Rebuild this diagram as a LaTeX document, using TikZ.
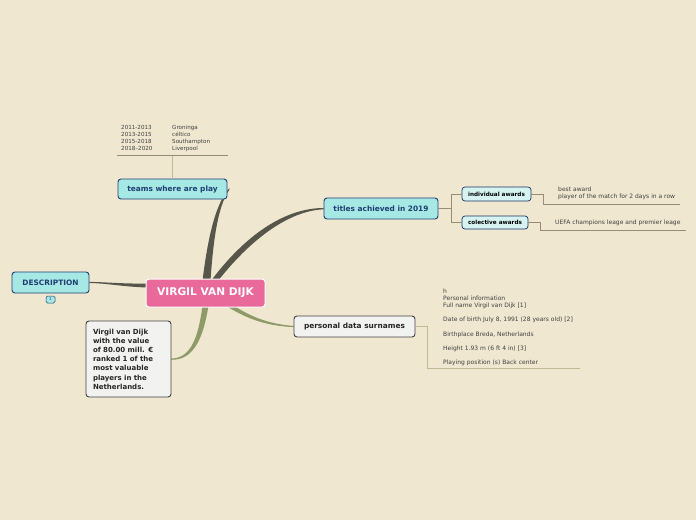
\documentclass[tikz,border=0pt]{standalone}
\usepackage{fontspec}
\setmainfont{DejaVu Sans}
\usetikzlibrary{calc}

\definecolor{paper}{HTML}{EFE7D0}
\definecolor{rosa}{HTML}{E8699A}
\definecolor{cyanfill}{HTML}{A6E8E4}
\definecolor{cyanpale}{HTML}{D6F3F2}
\definecolor{navy}{HTML}{1F3F73}
\definecolor{greyfill}{HTML}{F2F2F0}
\definecolor{darkbranch}{HTML}{57564A}
\definecolor{olive}{HTML}{8E9B68}
\definecolor{tanline}{HTML}{C2B892}
\definecolor{greyline}{HTML}{948E78}

\pgfdeclarelayer{paperlayer}
\pgfdeclarelayer{branchlayer}
\pgfsetlayers{paperlayer,branchlayer,main}

\tikzset{
  topic/.style={rounded corners=3pt, line width=0.9pt, inner sep=0pt,
    font=\fontsize{7.4}{9}\selectfont\bfseries},
  maintopic/.style={topic, draw=navy, fill=cyanfill, text=navy},
  subtopic/.style={topic, draw=navy!80!black, fill=cyanpale, text=black,
    font=\fontsize{5.7}{7}\selectfont\bfseries, line width=0.7pt},
  greytopic/.style={topic, draw=black!75, fill=greyfill, text=black!85},
  detail/.style={anchor=north west, inner sep=0pt, align=left, text=black!75,
    font=\fontsize{6}{7}\selectfont},
}

\begin{document}
\begin{tikzpicture}[x=1pt,y=-1pt]
  \begin{pgfonlayer}{paperlayer}
    \fill[paper] (0,0) rectangle (696,520);
  \end{pgfonlayer}
  \useasboundingbox (0,0) rectangle (696,520);

  % central topic
  \node[topic, draw=white, fill=rosa, text=white, line width=1pt,
    minimum width=119pt, minimum height=28pt,
    font=\fontsize{10.6}{12}\selectfont\bfseries] (vvd) at (205.5,293) {VIRGIL VAN DIJK};

  % main topics
  \node[maintopic, minimum width=109pt, minimum height=20pt] (teams) at (172.5,189) {teams where are play};
  \node[maintopic, minimum width=114pt, minimum height=21pt] (titles) at (381,208.5) {titles achieved in 2019};
  \node[maintopic, minimum width=77pt, minimum height=21pt] (desc) at (50.5,282.5) {DESCRIPTION};
  \node[maintopic, rounded corners=1.5pt, line width=0.5pt, minimum width=9pt, minimum height=7pt,
    font=\fontsize{4}{4}\selectfont] (badge) at (50.5,299.5) {1};
  \node[greytopic, minimum width=121pt, minimum height=21pt] (personal) at (354.5,326.5) {personal data surnames};
  \node[greytopic, minimum width=85pt, minimum height=76pt, text width=71pt, align=left,
    font=\fontsize{7}{9.2}\selectfont\bfseries] (note) at (128.5,359)
    {Virgil van Dijk\\with the value\\of 80.00 mill. €\\ranked 1 of the\\most valuable\\players in the\\Netherlands.};

  % subtopics
  \node[subtopic, minimum width=69pt, minimum height=14pt] (indiv) at (496.5,194) {individual awards};
  \node[subtopic, minimum width=66pt, minimum height=13pt] (colect) at (495,222.5) {colective awards};

  % tapered branches
  \begin{pgfonlayer}{branchlayer}
    \fill[darkbranch] ($(vvd.north)+(-3,2)$) .. controls (207,245) and (214,205) .. ($(teams.east)+(2,-1)$)
      -- ($(teams.east)+(2,0.5)$) .. controls (217,207) and (213,245) .. ($(vvd.north)+(5,2)$) -- cycle;
    \fill[darkbranch] ($(vvd.north)+(5,3)$) .. controls (245,235) and (285,208) .. ($(titles.west)+(0,-0.5)$)
      -- ($(titles.west)+(0,0.8)$) .. controls (288,211) and (250,240) .. ($(vvd.north)+(12,3)$) -- cycle;
    \fill[darkbranch] ($(vvd.north west)+(2,5)$) .. controls (125,284) and (105,282) .. ($(desc.east)+(0,-0.6)$)
      -- ($(desc.east)+(0,0.6)$) .. controls (105,283) and (125,287) .. ($(vvd.north west)+(2,9)$) -- cycle;
    \fill[olive] ($(vvd.south)+(-3,-2)$) .. controls (198,340) and (190,358) .. ($(note.east)+(0,-0.5)$)
      -- ($(note.east)+(0,0.8)$) .. controls (193,360) and (203,340) .. ($(vvd.south)+(3,-2)$) -- cycle;
    \fill[olive] ($(vvd.south)+(20,-2)$) .. controls (250,321) and (270,326) .. ($(personal.west)+(0,0.6)$)
      -- ($(personal.west)+(0,-0.6)$) .. controls (270,324) and (253,318) .. ($(vvd.south)+(28,-2)$) -- cycle;
  \end{pgfonlayer}

  % teams where are play: table
  \node[detail, font=\fontsize{5.6}{7}\selectfont] (years) at (121,125) {2011-2013\\2013-2015\\2015-2018\\2018--2020};
  \node[detail, font=\fontsize{5.6}{7}\selectfont] (clubs) at (172,125) {Groninga\\céltico\\Southampton\\Liverpool};
  \coordinate (tabL) at (117,155.5);
  \coordinate (tabR) at (228,155.5);
  \coordinate (tabM) at (172.5,155.5);
  \draw[greyline, line width=0.8pt] (tabL) -- (tabR);
  \draw[tanline, line width=0.8pt] (tabM) -- (teams.north);

  % titles achieved: subtopic connectors
  \coordinate (tfork) at (451,208.5);
  \draw[greyline, line width=0.8pt] (titles.east) -- (tfork) |- (indiv.west);
  \draw[greyline, line width=0.8pt] (tfork) |- (colect.west);

  \node[detail] (best) at (558,187)
    {best award\\player of the match for 2 days in a row};
  \coordinate (bestend) at (680,204.5);
  \draw[greyline, line width=0.8pt] (indiv.east) -- ++(12,0) |- (bestend);

  \node[detail] (uefa) at (555,219.5) {UEFA champions leage and premier leage};
  \coordinate (uefaend) at (686,230.5);
  \draw[greyline, line width=0.8pt] (colect.east) -- ++(12,0) |- (uefaend);

  % personal data
  \node[detail] (pinfo) at (443,288.5)
    {h\\Personal information\\Full name Virgil van Dijk [1]\\[7pt]
     Date of birth July 8, 1991 (28 years old) [2]\\[7.8pt]
     Birthplace Breda, Netherlands\\[7pt]
     Height 1.93 m (6 ft 4 in) [3]\\[7pt]
     Playing position (s) Back center};
  \coordinate (pend) at (580,368.5);
  \draw[tanline, line width=0.8pt] (personal.east) -- ++(12,0) |- (pend);
\end{tikzpicture}
\end{document}
